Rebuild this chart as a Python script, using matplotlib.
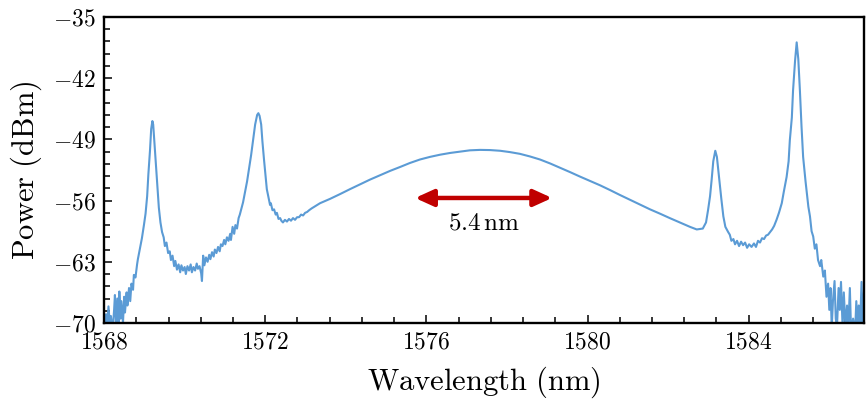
import numpy as np
import matplotlib
matplotlib.use("Agg")
import matplotlib.pyplot as plt
from matplotlib.ticker import MultipleLocator, FuncFormatter

# ── Fonts (LaTeX look) ────────────────────────────────────────────────────────
plt.rcParams["font.family"] = "serif"
plt.rcParams["font.serif"] = ["cmr10"]
plt.rcParams["mathtext.fontset"] = "cm"
plt.rcParams["axes.unicode_minus"] = False

LINE_C  = "#5b9bd5"
ARROW_C = "#c00000"

# ── Spectrum, segment by segment ─────────────────────────────────────────────
# left noise floor + first peak
wl_left = [1568.02, 1568.05, 1568.07, 1568.11, 1568.15, 1568.17, 1568.21, 1568.25,
           1568.27, 1568.30, 1568.33, 1568.36, 1568.38, 1568.41, 1568.43, 1568.47,
           1568.50, 1568.52, 1568.56, 1568.58, 1568.62, 1568.65, 1568.68, 1568.72,
           1568.74, 1568.78, 1568.82, 1568.84, 1568.89, 1568.94, 1568.99, 1569.03,
           1569.07, 1569.10, 1569.14, 1569.17, 1569.20, 1569.22, 1569.25, 1569.29,
           1569.33, 1569.36, 1569.40, 1569.44, 1569.48]
p_left = [-70.0, -69.0, -71.0, -68.1, -70.5, -69.2, -71.0, -68.5,
          -66.8, -70.5, -67.2, -70.2, -66.4, -69.5, -67.5, -70.0,
          -67.0, -68.8, -66.5, -68.0, -66.0, -67.5, -65.5, -66.2,
          -64.5, -64.8, -63.3, -62.7, -61.5, -60.3, -58.8, -57.5,
          -55.5, -53.0, -50.3, -47.8, -46.9, -47.3, -49.3, -52.0,
          -54.5, -56.8, -58.5, -59.6, -60.2]

# noisy valley between the two left peaks
wl_valley = [1569.51, 1569.55, 1569.59, 1569.63, 1569.66, 1569.70, 1569.74, 1569.77,
             1569.81, 1569.85, 1569.89, 1569.92, 1569.96, 1570.00, 1570.03, 1570.07,
             1570.11, 1570.15, 1570.18, 1570.22, 1570.26, 1570.30, 1570.33, 1570.37,
             1570.41, 1570.43, 1570.46, 1570.49, 1570.53, 1570.57, 1570.61, 1570.64,
             1570.68, 1570.72, 1570.75, 1570.79, 1570.83, 1570.87, 1570.90, 1570.94,
             1570.98, 1571.01, 1571.05, 1571.09, 1571.13, 1571.15, 1571.19, 1571.23,
             1571.26, 1571.30, 1571.34, 1571.37, 1571.41, 1571.45]
p_valley = [-61.2, -60.8, -62.0, -61.8, -62.8, -62.3, -63.5, -62.9,
            -63.9, -63.3, -64.2, -63.4, -64.0, -63.6, -64.4, -63.5,
            -64.0, -63.3, -64.2, -63.6, -64.0, -63.2, -63.8, -63.5,
            -64.3, -65.2, -62.3, -63.4, -62.5, -63.0, -62.2, -62.7,
            -61.9, -62.4, -61.6, -62.0, -61.3, -61.8, -61.0, -61.2,
            -60.5, -61.0, -60.2, -60.6, -59.8, -60.5, -59.0, -59.8,
            -58.8, -59.2, -58.0, -57.6, -56.9, -56.2]

# second peak and its shoulder
wl_peak2 = [1571.50, 1571.55, 1571.60, 1571.65, 1571.70, 1571.75, 1571.80, 1571.83,
            1571.86, 1571.90, 1571.93, 1571.97, 1572.01, 1572.04, 1572.08, 1572.12,
            1572.14, 1572.18, 1572.22, 1572.26, 1572.29, 1572.33, 1572.37, 1572.40,
            1572.44, 1572.49, 1572.54, 1572.59, 1572.64, 1572.69, 1572.74, 1572.79,
            1572.84, 1572.89, 1572.94, 1572.99, 1573.04, 1573.09, 1573.15, 1573.22]
p_peak2 = [-55.0, -53.8, -52.3, -50.8, -49.0, -47.3, -46.2, -46.0,
           -46.3, -47.3, -49.2, -51.3, -53.2, -54.7, -55.6, -56.5,
           -56.3, -57.1, -57.0, -57.6, -57.4, -58.1, -58.0, -58.3,
           -58.5, -58.2, -58.4, -58.1, -58.3, -58.0, -58.2, -57.9,
           -57.9, -57.6, -57.7, -57.4, -57.3, -57.1, -56.9, -56.7]

# broad central hump
wl_hump = [1573.36, 1573.61, 1573.86, 1574.10, 1574.35, 1574.60, 1574.85, 1575.10,
           1575.35, 1575.59, 1575.84, 1576.09, 1576.34, 1576.59, 1576.83, 1577.08,
           1577.33, 1577.58, 1577.83, 1578.07, 1578.32, 1578.57, 1578.82, 1579.07,
           1579.32, 1579.57, 1579.81, 1580.06, 1580.31, 1580.56, 1580.80, 1581.05,
           1581.30, 1581.55, 1581.80, 1582.04, 1582.29, 1582.54, 1582.71]
p_hump = [-56.3, -55.8, -55.25, -54.7, -54.15, -53.6, -53.1, -52.6,
          -52.15, -51.7, -51.3, -51.0, -50.75, -50.55, -50.4, -50.25,
          -50.2, -50.22, -50.3, -50.45, -50.65, -50.95, -51.3, -51.75,
          -52.25, -52.75, -53.25, -53.75, -54.25, -54.8, -55.35, -55.9,
          -56.45, -57.0, -57.5, -58.0, -58.5, -59.0, -59.3]

# third peak and the valley after it
wl_peak3 = [1582.86, 1582.94, 1582.99, 1583.04, 1583.08, 1583.12, 1583.17, 1583.21,
            1583.27, 1583.32, 1583.37, 1583.42, 1583.49, 1583.53, 1583.57, 1583.62,
            1583.66, 1583.71, 1583.76, 1583.81, 1583.86, 1583.91, 1583.96, 1584.01,
            1584.07, 1584.13, 1584.18, 1584.23, 1584.28, 1584.33, 1584.38, 1584.43,
            1584.48, 1584.53, 1584.58, 1584.63, 1584.69]
p_peak3 = [-59.2, -58.5, -57.1, -55.5, -53.6, -51.5, -50.3, -51.0,
           -53.6, -55.8, -57.8, -59.0, -59.6, -59.9, -60.6, -60.4,
           -61.0, -60.6, -61.2, -60.7, -61.1, -60.8, -61.4, -61.0,
           -61.3, -60.9, -61.3, -60.6, -60.8, -60.3, -60.4, -60.0,
           -59.9, -59.6, -59.3, -58.9, -58.2]

# strongest peak and right noise floor
wl_right = [1584.75, 1584.82, 1584.87, 1584.94, 1584.99, 1585.02, 1585.07, 1585.10,
            1585.15, 1585.19, 1585.23, 1585.27, 1585.31, 1585.35, 1585.41, 1585.48,
            1585.52, 1585.56, 1585.60, 1585.64, 1585.68, 1585.72, 1585.77, 1585.80,
            1585.85, 1585.89, 1585.93, 1585.97, 1586.00, 1586.03, 1586.06, 1586.09,
            1586.13, 1586.16, 1586.19, 1586.23, 1586.26, 1586.29, 1586.33, 1586.36,
            1586.40, 1586.44, 1586.47, 1586.51, 1586.54, 1586.59, 1586.64, 1586.67,
            1586.70, 1586.73, 1586.76, 1586.80, 1586.82, 1586.86]
p_right = [-57.4, -56.3, -55.0, -53.3, -51.5, -49.1, -46.5, -43.4,
           -40.0, -37.9, -39.8, -43.4, -47.5, -51.0, -53.8, -56.7,
           -57.8, -59.5, -60.1, -61.5, -61.0, -62.8, -63.5, -62.8,
           -64.7, -64.0, -67.0, -65.5, -68.5, -66.0, -70.5, -67.5,
           -65.2, -69.5, -70.5, -66.0, -68.5, -65.3, -70.5, -66.5,
           -70.5, -68.0, -71.0, -66.0, -71.0, -69.5, -71.0, -67.5,
           -70.5, -68.0, -71.0, -65.3, -70.0, -66.5]

wavelength = np.concatenate([wl_left, wl_valley, wl_peak2, wl_hump, wl_peak3, wl_right])
power = np.concatenate([p_left, p_valley, p_peak2, p_hump, p_peak3, p_right])

# ── Axes settings ─────────────────────────────────────────────────────────────
X_LIM = (1568.0, 1586.86)
Y_LIM = (-70, -35)
X_TICKS = [1568, 1572, 1576, 1580, 1584]
Y_TICKS = [-70, -63, -56, -49, -42, -35]

# spacing annotation
ARROW_X = (1575.72, 1579.12)
ARROW_Y = -55.7
ARROW_LABEL = r"$5.4\,\mathrm{nm}$"
LABEL_XY = (1577.43, -58.6)

# ── Figure ────────────────────────────────────────────────────────────────────
fig = plt.figure(figsize=(8.67, 4.05), dpi=100)
ax = fig.add_axes([0.12, 0.2025, 0.8765, 0.7555])

ax.plot(wavelength, power, color=LINE_C, lw=1.5, solid_joinstyle="round")

ax.set_xlim(*X_LIM)
ax.set_ylim(*Y_LIM)
ax.set_xticks(X_TICKS)
ax.set_yticks(Y_TICKS)
ax.xaxis.set_minor_locator(MultipleLocator(0.8))
ax.yaxis.set_minor_locator(MultipleLocator(1.4))
ax.xaxis.set_major_formatter(FuncFormatter(lambda v, _: r"$%d$" % round(v)))
ax.yaxis.set_major_formatter(FuncFormatter(lambda v, _: r"$%d$" % round(v)))

ax.tick_params(which="both", direction="in", top=False, right=False,
               width=1.1, labelsize=17, pad=6)
ax.tick_params(which="major", length=6)
ax.tick_params(which="minor", length=4)
for sp in ax.spines.values():
    sp.set_linewidth(1.7)

ax.set_xlabel(r"$\mathrm{Wavelength\ (nm)}$", fontsize=22, labelpad=8)
ax.set_ylabel(r"$\mathrm{Power\ (dBm)}$", fontsize=22, labelpad=6)

ax.annotate("", xy=(ARROW_X[1], ARROW_Y), xytext=(ARROW_X[0], ARROW_Y),
            arrowprops=dict(arrowstyle="<|-|>,head_length=0.55,head_width=0.25",
                            color=ARROW_C, lw=3.2, mutation_scale=20,
                            shrinkA=0, shrinkB=0))
ax.text(LABEL_XY[0], LABEL_XY[1], ARROW_LABEL, fontsize=18,
        ha="center", va="center")

fig.savefig("out.png", dpi=100)
